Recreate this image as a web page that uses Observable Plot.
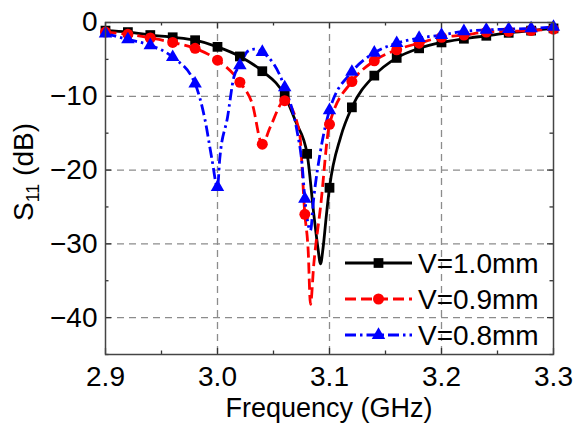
<!DOCTYPE html>
<html>
<head>
<meta charset="utf-8">
<script src="https://cdn.jsdelivr.net/npm/d3@7"></script>
<script src="https://cdn.jsdelivr.net/npm/@observablehq/plot@0.6"></script>
<style>
  html, body { margin: 0; padding: 0; background: #fff; }
  #chart { width: 582px; height: 432px; }
</style>
</head>
<body>
<div id="chart"></div>
<script>
// ---- data ----
const seriesNames = ["V=1.0mm", "V=0.9mm", "V=0.8mm"];

// marker samples (GHz, dB)
const freq10 = [2.90,2.92,2.94,2.96,2.98,3.00,3.02,3.04,3.06,3.08,3.10,3.12,3.14,3.16,3.18,3.20,3.22,3.24,3.26,3.28,3.30];
const s11_10 = [-1.1,-1.3,-1.7,-2.0,-2.4,-3.3,-4.6,-6.6,-9.9,-17.8,-22.4,-11.5,-7.2,-4.8,-3.5,-2.7,-2.2,-1.8,-1.4,-1.1,-0.8];

const freq09 = [2.90,2.92,2.94,2.96,2.98,3.00,3.02,3.04,3.06,3.078,3.10,3.12,3.14,3.16,3.18,3.20,3.22,3.24,3.26,3.28,3.30];
const s11_09 = [-1.3,-1.6,-2.1,-2.7,-3.5,-5.1,-8.1,-16.5,-10.6,-26.0,-13.8,-8.0,-5.2,-3.7,-2.8,-2.0,-1.7,-1.3,-1.2,-1.1,-0.9];

const freq08 = [2.90,2.92,2.94,2.96,2.98,3.00,3.02,3.04,3.06,3.078,3.10,3.12,3.14,3.16,3.18,3.20,3.22,3.24,3.26,3.28,3.30];
const s11_08 = [-1.5,-2.3,-3.1,-4.7,-8.3,-22.3,-5.8,-4.0,-8.8,-23.9,-11.9,-6.7,-4.1,-2.8,-2.1,-1.7,-1.2,-1.0,-0.9,-0.8,-0.6];

// extra curve samples between markers
const extraFreq10 = [3.07, 3.086, 3.0896, 3.092, 3.0943, 3.0973, 3.11];
const extraS11_10 = [-13.5, -26.0, -30.5, -32.7, -30.5, -26.0, -15.5];

const extraFreq09 = [3.031, 3.047, 3.073, 3.081, 3.083, 3.086, 3.092];
const extraS11_09 = [-11.0, -14.2, -14.7, -31.0, -38.2, -32.7, -25.0];

const extraFreq08 = [2.989, 2.995, 3.002, 3.009, 3.0146, 3.027, 3.033, 3.071, 3.0755, 3.083, 3.086, 3.092];
const extraS11_08 = [-13.3, -18.5, -18.5, -12.8, -7.4, -3.9, -3.6, -14.7, -19.2, -28.2, -23.7, -17.4];

// axes
const xMajor = [2.9, 3.0, 3.1, 3.2, 3.3];
const xMinor = [2.95, 3.05, 3.15, 3.25];
const xGrid = [3.0, 3.1, 3.2];
const yMajor = [0, -10, -20, -30, -40];
const yMinor = [-5, -15, -25, -35, -45];
const yGrid = [-10, -20, -30, -40];

// ---- build tables ----
const colors = ["#000000", "#ff0000", "#0000ff"];
const symbols = ["square", "circle", "triangle"];
const dashes = [null, "11,5", "11,4,2.5,4"];
const markerR = [5.5, 5.5, 5.0];

const markerSets = [[freq10, s11_10], [freq09, s11_09], [freq08, s11_08]];
const extraSets = [[extraFreq10, extraS11_10], [extraFreq09, extraS11_09], [extraFreq08, extraS11_08]];

const markers = markerSets.map(([f, v], i) => f.map((x, j) => ({series: seriesNames[i], f: x, s: v[j]})));
const curves = markers.map((m, i) => {
  const [ef, ev] = extraSets[i];
  return m.concat(ef.map((x, j) => ({series: seriesNames[i], f: x, s: ev[j]}))).sort((a, b) => a.f - b.f);
});

const W = 582, H = 432;
const mt = 22, mr = 29, mb = 78, ml = 105;
const pw = W - ml - mr, ph = H - mt - mb;
const font = "'Liberation Sans', Arial, sans-serif";
const tickColor = "#333";

const marks = [
  Plot.gridX(xGrid, {stroke: "#8c8c8c", strokeOpacity: 1, strokeWidth: 1.3, strokeDasharray: "7,5"}),
  Plot.gridY(yGrid, {stroke: "#8c8c8c", strokeOpacity: 1, strokeWidth: 1.3, strokeDasharray: "7,5"}),
  // inward ticks on all four sides
  Plot.tickX(xMajor, {x: d => d, insetTop: ph - 6, stroke: tickColor, strokeWidth: 1.3}),
  Plot.tickX(xMinor, {x: d => d, insetTop: ph - 3.5, stroke: tickColor, strokeWidth: 1.3}),
  Plot.tickX(xMajor, {x: d => d, insetBottom: ph - 6, stroke: tickColor, strokeWidth: 1.3}),
  Plot.tickX(xMinor, {x: d => d, insetBottom: ph - 3.5, stroke: tickColor, strokeWidth: 1.3}),
  Plot.tickY(yMajor, {y: d => d, insetRight: pw - 6, stroke: tickColor, strokeWidth: 1.3}),
  Plot.tickY(yMinor, {y: d => d, insetRight: pw - 3.5, stroke: tickColor, strokeWidth: 1.3}),
  Plot.tickY(yMajor, {y: d => d, insetLeft: pw - 6, stroke: tickColor, strokeWidth: 1.3}),
  Plot.tickY(yMinor, {y: d => d, insetLeft: pw - 3.5, stroke: tickColor, strokeWidth: 1.3}),
];
curves.forEach((c, i) => {
  marks.push(Plot.line(c, {x: "f", y: "s", stroke: colors[i], strokeWidth: 2.8, curve: "monotone-x",
    strokeDasharray: dashes[i], strokeLinecap: "butt"}));
});
markers.forEach((m, i) => {
  marks.push(Plot.dot(m, {x: "f", y: "s", symbol: () => symbols[i], fill: colors[i], stroke: "none", r: markerR[i]}));
});
marks.push(
  Plot.frame({stroke: "#444", strokeWidth: 1.5}),
  Plot.axisX(xMajor, {tickSize: 0, tickPadding: 12, tickFormat: d3.format(".1f"), label: null, fontSize: 28}),
  Plot.axisY(yMajor, {tickSize: 0, tickPadding: 8, tickFormat: d => d === 0 ? "0" : "\u2212" + Math.abs(d), label: null, fontSize: 28})
);

const chart = Plot.plot({
  width: W, height: H,
  marginTop: mt, marginRight: mr, marginBottom: mb, marginLeft: ml,
  x: {domain: [2.9, 3.3]},
  y: {domain: [-45, 0]},
  style: {fontFamily: font, fontSize: "28px", color: "#000", background: "#fff", overflow: "visible"},
  marks
});

const svg = d3.select(chart);
// x axis title
svg.append("text")
  .attr("x", ml + pw / 2).attr("y", 417)
  .attr("text-anchor", "middle")
  .attr("font-family", font).attr("font-size", 27).attr("fill", "#000")
  .text("Frequency (GHz)");
// y axis title with subscript
const yl = svg.append("text")
  .attr("transform", "translate(33,172) rotate(-90)")
  .attr("text-anchor", "middle")
  .attr("font-family", font).attr("font-size", 28).attr("fill", "#000");
yl.append("tspan").text("S");
yl.append("tspan").attr("font-size", 18).attr("dy", 6).text("11");
yl.append("tspan").attr("dy", -6).text(" (dB)");

// legend (inside plot, bottom-right)
const x0 = ml + pw - 208, x1 = x0 + 67, xm = (x0 + x1) / 2;
const rowY = [263, 299, 335];
const lg = svg.append("g").attr("text-anchor", "start");
seriesNames.forEach((name, i) => {
  const y = rowY[i];
  lg.append("line").attr("x1", x0).attr("x2", x1).attr("y1", y).attr("y2", y)
    .attr("stroke", colors[i]).attr("stroke-width", 2.8)
    .attr("stroke-dasharray", dashes[i]);
  const sym = [d3.symbolSquare, d3.symbolCircle, d3.symbolTriangle][i];
  lg.append("path").attr("transform", `translate(${xm},${y})`)
    .attr("d", d3.symbol(sym, Math.PI * markerR[i] * markerR[i])())
    .attr("fill", colors[i]);
  lg.append("text").attr("x", x1 + 6).attr("y", y).attr("dy", "0.36em")
    .attr("text-anchor", "start")
    .attr("font-family", font).attr("font-size", 28).attr("fill", "#000")
    .text(name);
});

document.getElementById("chart").appendChild(chart);
</script>
</body>
</html>
